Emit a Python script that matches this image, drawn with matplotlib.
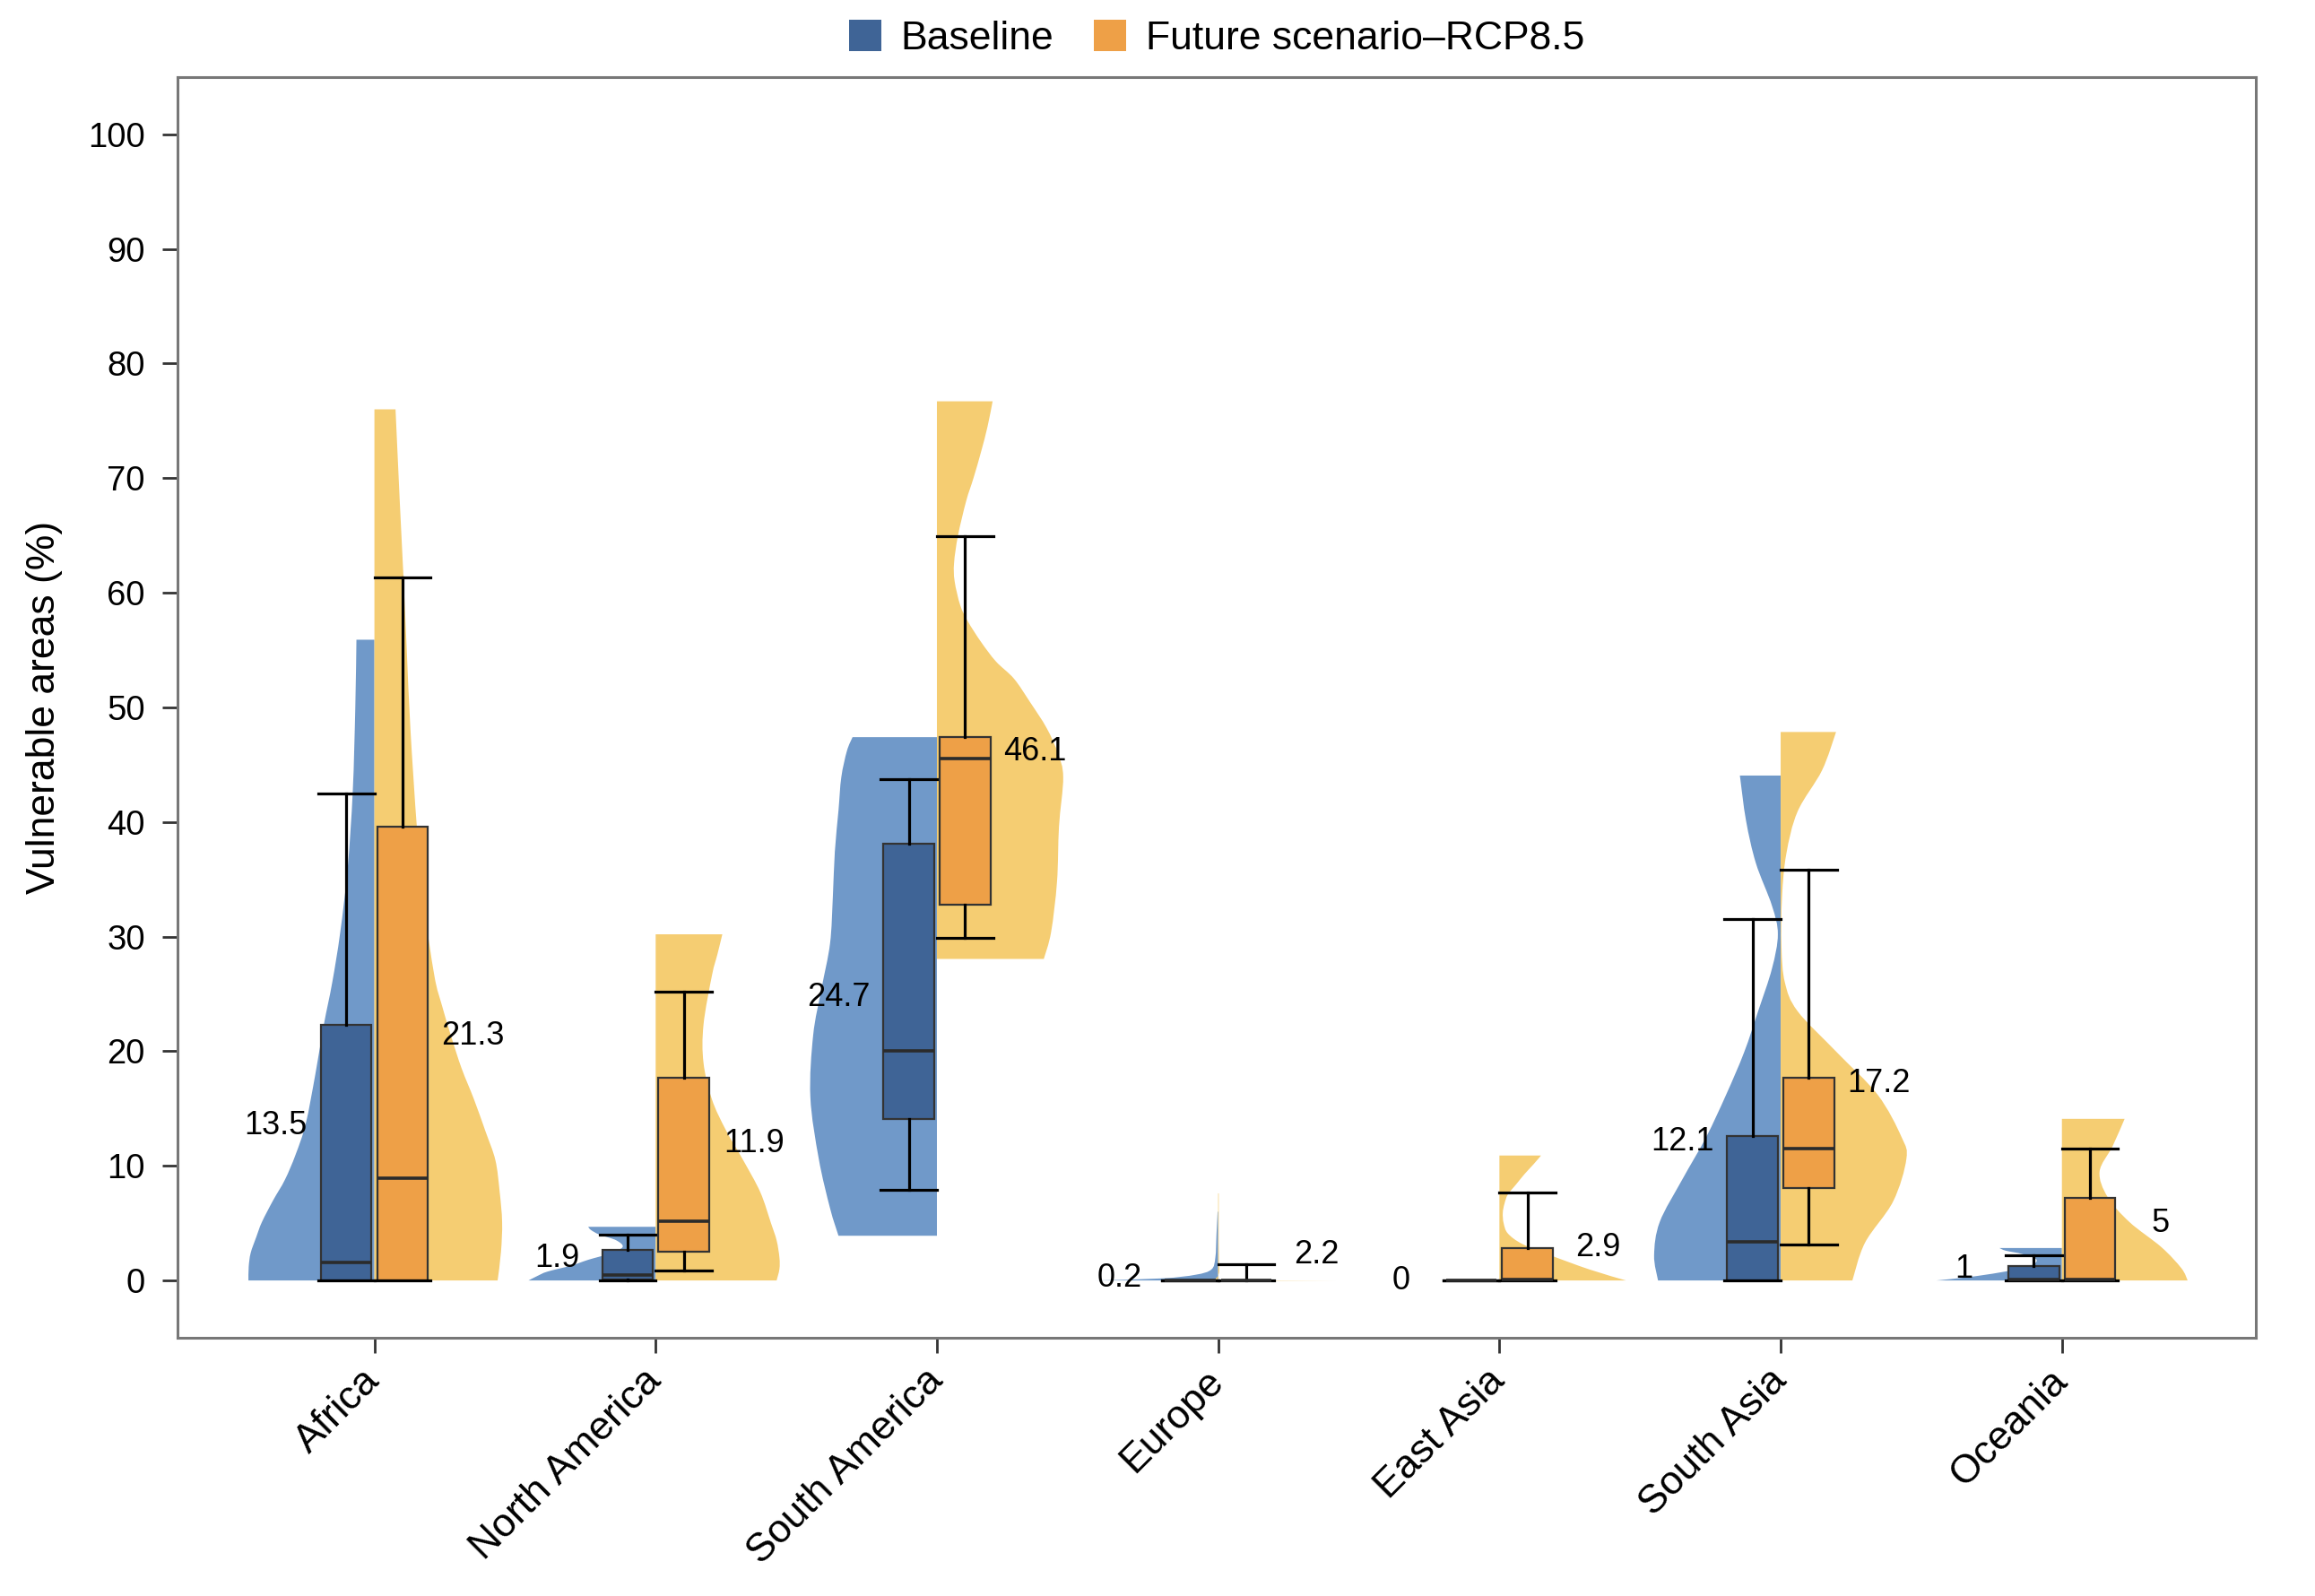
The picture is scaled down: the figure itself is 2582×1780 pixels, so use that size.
import numpy as np
import matplotlib.pyplot as plt
from matplotlib.patches import Patch, PathPatch
from matplotlib.path import Path

plt.rcParams['font.family'] = ['Liberation Sans', 'DejaVu Sans']

regions = ["Africa", "North America", "South America", "Europe",
           "East Asia", "South Asia", "Oceania"]

# box statistics (%)
base_whislo = [0, 0, 7.9, 0, 0, 0, 0]
base_q1     = [0, 0.05, 14.1, 0, 0, 0, 0]
base_med    = [1.6, 0.5, 20.0, 0, 0, 3.4, 0.1]
base_q3     = [22.3, 2.7, 38.1, 0, 0, 12.6, 1.25]
base_whishi = [42.5, 4.0, 43.7, 0, 0, 31.5, 2.2]
base_mean   = [13.5, 1.9, 24.7, 0.2, 0, 12.1, 1]

fut_whislo = [0, 0.9, 29.9, 0, 0, 3.1, 0]
fut_q1     = [0, 2.5, 32.8, 0, 0, 8.1, 0]
fut_med    = [8.9, 5.2, 45.5, 0, 0.1, 11.5, 0.1]
fut_q3     = [39.6, 17.7, 47.4, 0, 2.8, 17.7, 7.2]
fut_whishi = [61.3, 25.2, 64.9, 1.4, 7.7, 35.8, 11.5]
fut_mean   = [21.3, 11.9, 46.1, 2.2, 2.9, 17.2, 5]

# half-violin outlines: levels (%) and half widths
base_vy = [
    [0, 1.2, 2.4, 3.8, 5.1, 7, 8.8, 11, 13.7, 18, 22.3, 26, 30.3, 36, 42.7, 50, 55.9],
    [0, 0.4, 0.77, 1.3, 1.8, 2.3, 2.9, 3.5, 4.0, 4.4, 4.68],
    [3.9, 6.3, 10.6, 16.0, 21.4, 25.5, 29.4, 33.5, 37.4, 41, 43.9, 46.2, 47.4],
    [0, 0.18, 0.5, 0.96, 2, 4, 6],
    [],
    [0, 2.2, 5.1, 8.8, 12.5, 16.2, 19.9, 23.5, 27.2, 30.2, 32.7, 36.4, 40.1, 44.05],
    [0, 0.3, 0.7, 1.2, 1.8, 2.3, 2.6, 2.83],
]
base_vw = [
    [0.448, 0.447, 0.44, 0.42, 0.40, 0.36, 0.318, 0.28, 0.244, 0.21, 0.18, 0.15, 0.122, 0.095, 0.077, 0.068, 0.064],
    [0.452, 0.42, 0.385, 0.3, 0.24, 0.17, 0.118, 0.14, 0.2, 0.23, 0.24],
    [0.35, 0.38, 0.42, 0.45, 0.44, 0.41, 0.38, 0.37, 0.363, 0.35, 0.34, 0.32, 0.30],
    [0.436, 0.2, 0.08, 0.024, 0.01, 0.006, 0.002],
    [],
    [0.436, 0.45, 0.43, 0.35, 0.265, 0.194, 0.13, 0.08, 0.031, 0.01, 0.031, 0.088, 0.123, 0.145],
    [0.446, 0.33, 0.22, 0.12, 0.09, 0.14, 0.2, 0.222],
]
fut_vy = [
    [0, 2.5, 5.1, 7.8, 10.5, 13, 15.8, 18.5, 21.2, 24, 26.6, 33, 39.5, 48.1, 55, 61.5, 68, 76],
    [0, 1, 2, 3.5, 5, 7.7, 10.5, 13.1, 15.8, 19, 22.3, 26.6, 28.5, 30.2],
    [28.05, 30.4, 34.8, 39.6, 43.9, 46, 48.2, 50.5, 52.5, 54, 55.7, 57.5, 58.9, 61, 62.6, 65, 68, 70, 72.3, 74.5, 76.7],
    [0, 0.06, 1, 7.6],
    [0, 0.96, 2.3, 3.2, 4.1, 5.0, 5.9, 6.7, 7.5, 8.4, 9.3, 10.1, 10.9],
    [0, 3.3, 6.9, 10.6, 12.5, 16.2, 19.9, 23.5, 26, 29.1, 33.5, 37.2, 40.9, 44.5, 47.85],
    [0, 1.06, 2.9, 5.1, 7.3, 9.5, 11.7, 14.1],
]
fut_vw = [
    [0.438, 0.45, 0.454, 0.445, 0.43, 0.395, 0.354, 0.31, 0.274, 0.24, 0.213, 0.175, 0.151, 0.128, 0.115, 0.103, 0.09, 0.075],
    [0.43, 0.44, 0.44, 0.43, 0.41, 0.372, 0.311, 0.25, 0.2, 0.17, 0.17, 0.2, 0.22, 0.237],
    [0.38, 0.406, 0.427, 0.434, 0.449, 0.43, 0.39, 0.33, 0.274, 0.21, 0.157, 0.11, 0.083, 0.063, 0.061, 0.075, 0.104, 0.13, 0.157, 0.18, 0.198],
    [0.42, 0.02, 0.004, 0.002],
    [0.45, 0.32, 0.17, 0.08, 0.03, 0.015, 0.012, 0.018, 0.03, 0.06, 0.09, 0.12, 0.148],
    [0.255, 0.30, 0.40, 0.447, 0.43, 0.345, 0.2, 0.06, 0.015, 0.003, 0.005, 0.02, 0.06, 0.147, 0.197],
    [0.447, 0.425, 0.354, 0.24, 0.162, 0.134, 0.18, 0.223],
]

c_base_violin = '#7099c9'
c_fut_violin = '#f5cd72'
c_base_box = '#3f6496'
c_fut_box = '#eea047'


def half_violin(ax, xc, ys, ws, side, color):
    """Smooth outline (Bezier through the read points) closed on the split line."""
    pts = np.column_stack([xc + side * np.array(ws), np.array(ys)])
    n = len(pts)
    verts = [(xc, ys[0]), tuple(pts[0])]
    codes = [Path.MOVETO, Path.LINETO]
    for k in range(n - 1):
        p0 = pts[max(k - 1, 0)]
        p1 = pts[k]
        p2 = pts[k + 1]
        p3 = pts[min(k + 2, n - 1)]
        c1 = p1 + (p2 - p0) / 6.0
        c2 = p2 - (p3 - p1) / 6.0
        verts += [tuple(c1), tuple(c2), tuple(p2)]
        codes += [Path.CURVE4] * 3
    verts += [(xc, ys[-1]), (xc, ys[0])]
    codes += [Path.LINETO, Path.CLOSEPOLY]
    ax.add_patch(PathPatch(Path(verts, codes), facecolor=color, lw=0, zorder=1))


fig = plt.figure(figsize=(25.82, 17.8), dpi=100)
ax = fig.add_axes([0.0767, 0.1618, 0.8978, 0.79])

x = np.arange(len(regions))

for i in range(len(regions)):
    if len(base_vy[i]):
        half_violin(ax, x[i], base_vy[i], base_vw[i], -1, c_base_violin)
    if len(fut_vy[i]):
        half_violin(ax, x[i], fut_vy[i], fut_vw[i], 1, c_fut_violin)


def make_stats(lo, q1, med, q3, hi):
    return [dict(whislo=lo[k], q1=q1[k], med=med[k], q3=q3[k], whishi=hi[k], fliers=[])
            for k in range(len(lo))]


base_stats = make_stats(base_whislo, base_q1, base_med, base_q3, base_whishi)
fut_stats = make_stats(fut_whislo, fut_q1, fut_med, fut_q3, fut_whishi)

for stats, off, col in [(base_stats, -0.1, c_base_box), (fut_stats, 0.1, c_fut_box)]:
    bp = ax.bxp(stats, positions=x + off, widths=0.18, capwidths=0.2,
                patch_artist=True, showfliers=False, manage_ticks=False,
                boxprops=dict(facecolor=col, edgecolor='#333333', lw=1.6),
                medianprops=dict(color='#2b2b2b', lw=2.6),
                whiskerprops=dict(color='black', lw=2.3),
                capprops=dict(color='black', lw=2.3))
    for art in bp['boxes'] + bp['medians'] + bp['whiskers'] + bp['caps']:
        art.set_zorder(3)

# mean labels
for i in range(len(regions)):
    ax.text(x[i] - 0.35, base_mean[i], f"{base_mean[i]:g}", ha='center', va='center',
            fontsize=26, zorder=4)
    ax.text(x[i] + 0.35, fut_mean[i], f"{fut_mean[i]:g}", ha='center', va='center',
            fontsize=26, zorder=4)

ax.set_xlim(-0.7, 6.69)
ax.set_ylim(-5, 105)
ax.set_yticks(np.arange(0, 101, 10))
ax.set_xticks(x)
ax.set_xticklabels(regions, rotation=45, ha='right', va='center', rotation_mode='anchor')
ax.tick_params(axis='both', length=12, width=2, color='#333333')
ax.tick_params(axis='y', labelsize=27.5, pad=14)
ax.tick_params(axis='x', labelsize=32, pad=18)
ax.set_ylabel('Vulnerable areas (%)', fontsize=32, labelpad=20)
for s in ax.spines.values():
    s.set_color('#777777')
    s.set_linewidth(2.2)

handles = [Patch(facecolor=c_base_box, label='Baseline'),
           Patch(facecolor=c_fut_box, label='Future scenario\u2013RCP8.5')]
ax.legend(handles=handles, loc='lower center', bbox_to_anchor=(0.5, 1.003), ncol=2,
          frameon=False, fontsize=32, handlelength=0.8, handleheight=0.85,
          handletextpad=0.5, columnspacing=1.0, borderaxespad=0.0)

fig.savefig('out.png', dpi=100)
